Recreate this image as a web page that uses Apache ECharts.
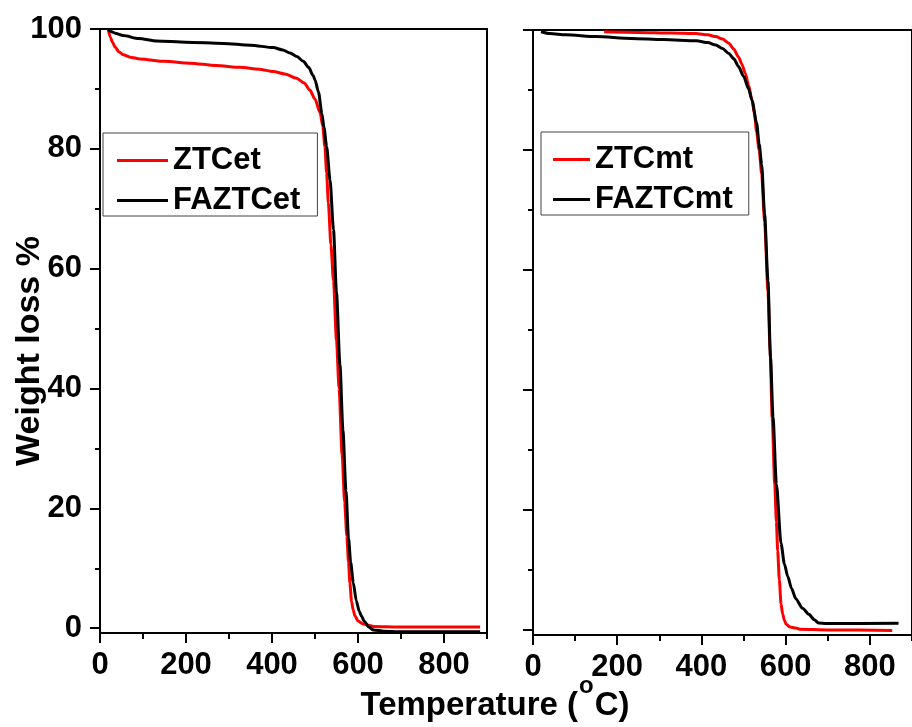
<!DOCTYPE html>
<html>
<head>
<meta charset="utf-8">
<script src="https://cdn.jsdelivr.net/npm/echarts@6/dist/echarts.min.js"></script>
<style>
  html, body { margin: 0; padding: 0; background: #fff; }
  #chart { width: 912px; height: 727px; }
</style>
</head>
<body>
<div id="chart"></div>
<script>
// TGA curves: temperature (°C) vs remaining weight (%)
const ztcet = [
  [19,100],[24,98.6],[29,97.8],[35,97.0],[44,96.2],[54,95.7],[70,95.3],[93,95.0],
  [150,94.6],[209,94.3],[270,93.9],[326,93.6],[370,93.3],[403,92.9],[430,92.5],
  [457,91.8],[475,91.0],[488,89.8],[500,88.3],[512,86.0],[518,83.8],[523,80.4],
  [527,76],[531,71],[537,64],[543,58],[550,48],[556,40],[563,29],[569,21],
  [574,15.4],[578,11],[581,7.6],[585,4.5],[589,3.0],[593,2.05],[600,1.2],
  [612,0.7],[636,0.3],[700,0.2],[800,0.2],[884,0.2]
];
const faztcet = [
  [19,100],[25,99.6],[35,99.3],[54,98.9],[90,98.4],[132,98.0],[200,97.8],
  [287,97.6],[350,97.3],[403,96.9],[425,96.5],[442,96.0],[458,95.4],[473,94.6],
  [485,93.6],[496,92.2],[500,91.5],[508,89.5],[516,85.9],[521,83.5],[527,80.4],
  [535,74.8],[543,66.5],[550,56],[558,44],[565,33],[572,23],[578,15],[583,11],
  [589,7.6],[596,4.6],[603,2.8],[608,2.05],[615,1.1],[625,0.2],[636,-0.3],
  [660,-0.5],[700,-0.6],[884,-0.6]
];
const ztcmt = [
  [169,99.7],[250,99.6],[330,99.5],[387,99.4],[415,99.2],[434,98.9],[450,98.5],
  [465,97.8],[477,96.8],[488,95.5],[496,94.3],[504,92.8],[512,90.8],[520,88.3],
  [526,86],[531,83],[537,80],[543,76],[550,68],[558,56.5],[563,46.7],[568,35.4],
  [574,24.3],[578,18],[581,13.2],[585,8.3],[589,4.3],[593,2.6],[597,1.6],
  [601,0.95],[610,0.5],[624,0.3],[636,0.1],[700,0],[853,-0.1]
];
const faztcmt = [
  [19,99.7],[40,99.4],[78,99.2],[150,98.9],[233,98.6],[310,98.4],[388,98.2],
  [415,97.9],[434,97.5],[450,96.9],[465,96.1],[477,95.2],[488,93.9],[500,92.3],
  [512,90.2],[520,88.3],[531,84.5],[537,81],[543,77.6],[550,69.3],[558,58.2],
  [564,45.4],[570,35.4],[578,24.3],[589,14.4],[597,11],[605,8.9],[614,6.9],
  [624,5.2],[640,3.6],[655,2.6],[668,1.7],[678,1.15],[698,1.05],[868,1.1]
];

const xMajor = [0, 200, 400, 600, 800];
const xMinor = [100, 300, 500, 700, 900];
const yMajor = [0, 20, 40, 60, 80, 100];
const yMinor = [10, 30, 50, 70, 90];

const FONT = 'Liberation Sans, Arial, sans-serif';
const RED = '#ff0000';
const BLACK = '#000000';

function xAxes(grid, ticks, withLine, withLabels, len) {
  return {
    type: 'value', gridIndex: grid, position: 'bottom', min: 0, max: 900,
    splitLine: { show: false },
    axisLine: { show: withLine, onZero: false, lineStyle: { color: BLACK, width: 2 } },
    axisTick: { show: true, customValues: ticks, length: len, lineStyle: { color: BLACK, width: 2 } },
    axisLabel: withLabels ? {
      show: true, customValues: ticks, margin: 17, color: BLACK,
      fontFamily: FONT, fontWeight: 'bold', fontSize: 31
    } : { show: false }
  };
}
function yAxes(grid, ticks, withLine, withLabels, len, min) {
  return {
    type: 'value', gridIndex: grid, position: 'left', min: min, max: 100,
    splitLine: { show: false },
    axisLine: { show: withLine, onZero: false, lineStyle: { color: BLACK, width: 2 } },
    axisTick: { show: true, customValues: ticks, length: len, lineStyle: { color: BLACK, width: 2 } },
    axisLabel: withLabels ? {
      show: true, customValues: ticks, margin: 18, color: BLACK,
      fontFamily: FONT, fontWeight: 'bold', fontSize: 31
    } : { show: false }
  };
}
function line(name, data, color, xi, yi) {
  return {
    name: name, type: 'line', data: data, xAxisIndex: xi, yAxisIndex: yi,
    symbol: 'none', smooth: 0.25, smoothMonotone: 'x', clip: true,
    lineStyle: { color: color, width: 3 }, itemStyle: { color: color }
  };
}
function legend(names, left, top, iconW, padding) {
  return {
    orient: 'vertical', left: left, top: top, data: names,
    icon: 'rect', itemWidth: iconW, itemHeight: 3, itemGap: 9,
    padding: padding, borderColor: '#444', borderWidth: 1,
    textStyle: { color: BLACK, fontFamily: FONT, fontWeight: 'bold', fontSize: 31 }
  };
}

// x-axis title with a raised "o" before C, laid out piece by piece
const TITLE_FONT = 'bold 33px ' + FONT;
const SUP_FONT = 'bold 24px ' + FONT;
const measureCtx = document.createElement('canvas').getContext('2d');
function textWidth(str, font) { measureCtx.font = font; return measureCtx.measureText(str).width; }
const tPart1 = 'Temperature (', tSup = 'o', tPart2 = 'C)';
const w1 = textWidth(tPart1, TITLE_FONT), w2 = textWidth(tSup, SUP_FONT) + 2, w3 = textWidth(tPart2, TITLE_FONT);
const titleLeft = 495 - (w1 + w2 + w3) / 2;

const chart = echarts.init(document.getElementById('chart'), null, { renderer: 'canvas' });
chart.setOption({
  animation: false,
  backgroundColor: '#fff',
  grid: [
    { left: 100, top: 29, width: 387, height: 604, show: true, borderColor: BLACK, borderWidth: 2 },
    { left: 533, top: 30, width: 387, height: 605, show: true, borderColor: BLACK, borderWidth: 2 }
  ],
  xAxis: [
    xAxes(0, xMajor, true, true, 10),
    xAxes(0, xMinor, false, false, 6),
    xAxes(1, xMajor, true, true, 10),
    xAxes(1, xMinor, false, false, 6)
  ],
  yAxis: [
    yAxes(0, yMajor, true, true, 10, -0.8),
    yAxes(0, yMinor, false, false, 5, -0.8),
    yAxes(1, yMajor, true, false, 10, -0.85),
    yAxes(1, yMinor, false, false, 5, -0.85)
  ],
  legend: [
    legend(['ZTCet', 'FAZTCet'], 103, 133, 51, [12, 17, 0, 14]),
    legend(['ZTCmt', 'FAZTCmt'], 541, 132, 37, [12, 16, 0, 12])
  ],
  series: [
    line('ZTCet', ztcet, RED, 0, 0),
    line('FAZTCet', faztcet, BLACK, 0, 0),
    line('ZTCmt', ztcmt, RED, 2, 2),
    line('FAZTCmt', faztcmt, BLACK, 2, 2)
  ],
  graphic: [
    {
      type: 'text', x: 30, y: 351, rotation: Math.PI / 2,
      style: {
        text: 'Weight loss %', fill: BLACK, align: 'center', verticalAlign: 'middle',
        font: 'bold 34px ' + FONT
      }
    },
    {
      type: 'text', x: titleLeft, y: 706,
      style: { text: tPart1, fill: BLACK, align: 'left', verticalAlign: 'middle', font: TITLE_FONT }
    },
    {
      type: 'text', x: titleLeft + w1 + 1, y: 686,
      style: { text: tSup, fill: BLACK, align: 'left', verticalAlign: 'middle', font: SUP_FONT }
    },
    {
      type: 'text', x: titleLeft + w1 + w2, y: 706,
      style: { text: tPart2, fill: BLACK, align: 'left', verticalAlign: 'middle', font: TITLE_FONT }
    }
  ]
});
</script>
</body>
</html>
